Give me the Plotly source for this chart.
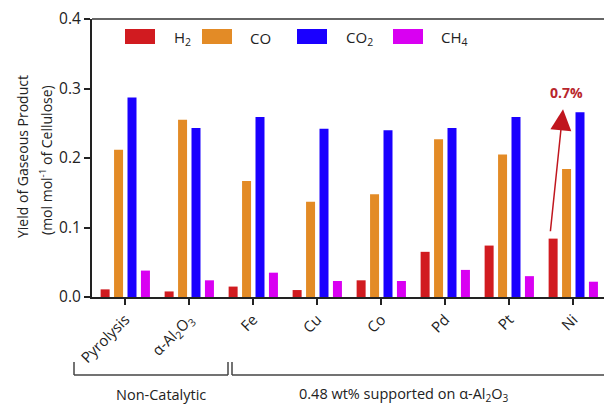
import plotly.graph_objects as go

categories = ["Pyrolysis", "α-Al<sub>2</sub>O<sub>3</sub>", "Fe", "Cu", "Co", "Pd", "Pt", "Ni"]
h2 = [0.011, 0.008, 0.015, 0.010, 0.024, 0.065, 0.074, 0.084]
co = [0.212, 0.255, 0.167, 0.137, 0.148, 0.227, 0.205, 0.184]
co2 = [0.287, 0.243, 0.259, 0.242, 0.240, 0.243, 0.259, 0.266]
ch4 = [0.038, 0.024, 0.035, 0.023, 0.023, 0.039, 0.030, 0.022]
y_ticks = [0.0, 0.1, 0.2, 0.3, 0.4]

series = [("H<sub>2</sub>", h2, "#d11b20"),
          ("CO", co, "#e38b26"),
          ("CO<sub>2</sub>", co2, "#1a00ff"),
          ("CH<sub>4</sub>", ch4, "#d900f2")]

FONT = "Open Sans"
TXT = "#222"
fig = go.Figure()
xs = list(range(len(categories)))
for name, vals, col in series:
    fig.add_trace(go.Bar(x=xs, y=vals, name=name, marker_color=col,
                         marker_line_width=0, showlegend=False))

# geometry helpers (pixel -> paper)
L, R, T, B = 92, 604, 19, 297
def px(x):
    return (x - L) / (R - L)
def py(y):
    return (B - y) / (B - T)

fig.update_layout(
    width=604, height=406,
    margin=dict(l=L, r=604 - R, t=T, b=406 - B),
    paper_bgcolor="white", plot_bgcolor="white",
    barmode="group", bargap=0.16, bargroupgap=0.33,
    font=dict(family=FONT, color=TXT),
    xaxis=dict(range=[-0.52, 7.48], tickmode="array", tickvals=xs, ticktext=categories,
               tickangle=-45, ticks="outside", ticklen=6, tickwidth=2, tickcolor="#222",
               showline=True, linecolor="#222", linewidth=2, showgrid=False, zeroline=False,
               tickfont=dict(size=15, color=TXT, family=FONT)),
    yaxis=dict(range=[0, 0.4], tickvals=y_ticks, ticktext=[f"{v:.1f}" for v in y_ticks],
               ticks="outside", ticklen=6, tickwidth=2, tickcolor="#222",
               showline=True, linecolor="#222", linewidth=2, showgrid=False, zeroline=False,
               tickfont=dict(size=15.5, color=TXT, family=FONT)),
)

shapes = []
# top border
shapes.append(dict(type="line", xref="paper", yref="paper", x0=0, x1=1, y0=1, y1=1,
                   line=dict(color="#333", width=1.5)))
# legend swatches
leg = [(125, "H<sub>2</sub>", "#d11b20", 172), (202, "CO", "#e38b26", 248),
       (297, "CO<sub>2</sub>", "#1a00ff", 344), (393, "CH<sub>4</sub>", "#d900f2", 439)]
annotations = []
for x0, txt, col, tx in leg:
    shapes.append(dict(type="rect", xref="paper", yref="paper", x0=px(x0), x1=px(x0 + 30),
                       y0=py(44), y1=py(29), fillcolor=col, line=dict(width=0)))
    annotations.append(dict(xref="paper", yref="paper", x=px(tx), y=py(38), text=txt,
                            showarrow=False, xanchor="left", yanchor="middle",
                            font=dict(size=15, color=TXT, family=FONT)))
# brackets
bc = dict(color="#444", width=1.5)
for a, b_, right in [(74, 228, True), (232, 604, False)]:
    shapes.append(dict(type="line", xref="paper", yref="paper", x0=px(a), x1=px(b_),
                       y0=py(375), y1=py(375), line=bc))
    shapes.append(dict(type="line", xref="paper", yref="paper", x0=px(a), x1=px(a),
                       y0=py(362), y1=py(375), line=bc))
    if right:
        shapes.append(dict(type="line", xref="paper", yref="paper", x0=px(b_), x1=px(b_),
                           y0=py(362), y1=py(375), line=bc))
annotations.append(dict(xref="paper", yref="paper", x=px(161), y=py(394), text="Non-Catalytic",
                        showarrow=False, xanchor="center", yanchor="middle",
                        font=dict(size=14.5, color=TXT, family=FONT)))
annotations.append(dict(xref="paper", yref="paper", x=px(404), y=py(394),
                        text="0.48 wt% supported on α-Al<sub>2</sub>O<sub>3</sub>",
                        showarrow=False, xanchor="center", yanchor="middle",
                        font=dict(size=14.5, color=TXT, family=FONT)))
# y axis title
annotations.append(dict(xref="paper", yref="paper", x=px(22), y=py(157), text="Yield of Gaseous Product",
                        showarrow=False, textangle=-90, xanchor="center", yanchor="middle",
                        font=dict(size=14, color=TXT, family=FONT)))
annotations.append(dict(xref="paper", yref="paper", x=px(46), y=py(160),
                        text="(mol mol<sup>-1</sup> of Cellulose)",
                        showarrow=False, textangle=-90, xanchor="center", yanchor="middle",
                        font=dict(size=14, color=TXT, family=FONT)))
# arrow and label
annotations.append(dict(x=6.84, y=0.270, ax=6.64, ay=0.0925, xref="x", yref="y", axref="x", ayref="y",
                        text="", showarrow=True, arrowhead=2, arrowsize=2.8, arrowwidth=1.5,
                        arrowcolor="#c0161e"))
annotations.append(dict(x=6.9, y=0.294, xref="x", yref="y", text="<b>0.7%</b>", showarrow=False,
                        font=dict(size=14, color="#b8262c", family=FONT)))

fig.update_layout(shapes=shapes, annotations=annotations)
fig.write_html("out.html")
